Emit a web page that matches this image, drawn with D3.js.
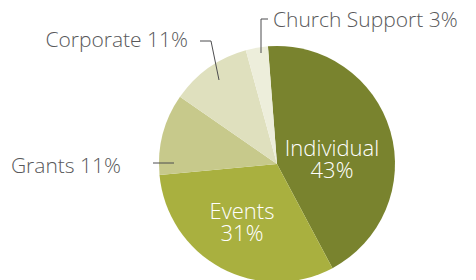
<!DOCTYPE html>
<html>
<head>
<meta charset="utf-8">
<script src="https://cdn.jsdelivr.net/npm/d3@7"></script>
<style>
  body { margin: 0; background: #fff; }
  text { font-family: 'Open Sans', sans-serif; font-weight: 300; }
</style>
</head>
<body>
<script>
const categories = ['Individual', 'Events', 'Grants', 'Corporate', 'Church Support']
const values = [43, 31, 11, 11, 3]
const colours = ['#79832e', '#a9b03f', '#c7c98b', '#dfe0be', '#edeedb']

const width = 476
const height = 280
const radius = 118
const cx = 277
const cy = 164

// where each label sits, relative to the pie centre
const inside = {
  Individual: [55, -8],
  Events: [-35, 55]
}
const outside = {
  'Church Support': { text: [-4, -137], anchor: 'start', line: [[-9, -145], [-16, -145], [-16, -111]] },
  Corporate: { text: [-89, -117], anchor: 'end', line: [[-77, -123], [-66, -123], [-58, -84]] },
  Grants: { text: [-156, 9], anchor: 'end', line: [[-124, -1], [-103, -1]] }
}

const data = categories.map((c, i) => ({ category: c, value: values[i], colour: colours[i] }))

const offset = -0.077
const pie = d3.pie()
  .sort(null)
  .value(d => d.value)
  .startAngle(offset)
  .endAngle(2 * Math.PI + offset)

const arc = d3.arc().innerRadius(0).outerRadius(radius)

const svg = d3.select('body').append('svg')
  .attr('width', width)
  .attr('height', height)

const g = svg.append('g')
  .attr('transform', `translate(${cx},${cy})`)

g.selectAll('path.slice')
  .data(pie(data))
  .enter()
  .append('path')
  .attr('class', 'slice')
  .attr('d', arc)
  .attr('fill', d => d.data.colour)

// labels inside the big slices
const inner = g.selectAll('text.inner')
  .data(pie(data).filter(d => inside[d.data.category]))
  .enter()
  .append('text')
  .attr('class', 'inner')
  .attr('text-anchor', 'middle')
  .attr('fill', '#fff')
  .attr('font-size', 22)
  .attr('transform', d => `translate(${inside[d.data.category]})`)
inner.append('tspan').attr('x', 0).attr('y', 0).text(d => d.data.category)
inner.append('tspan').attr('x', 0).attr('y', 22).text(d => `${d.data.value}%`)

// labels outside with leader lines
const outer = pie(data).filter(d => outside[d.data.category])
g.selectAll('path.leader')
  .data(outer)
  .enter()
  .append('path')
  .attr('class', 'leader')
  .attr('d', d => d3.line()(outside[d.data.category].line))
  .attr('fill', 'none')
  .attr('stroke', '#4d4d4f')
  .attr('stroke-width', 1)

g.selectAll('text.outer')
  .data(outer)
  .enter()
  .append('text')
  .attr('class', 'outer')
  .attr('x', d => outside[d.data.category].text[0])
  .attr('y', d => outside[d.data.category].text[1])
  .attr('text-anchor', d => outside[d.data.category].anchor)
  .attr('fill', '#58585a')
  .attr('font-size', 21)
  .text(d => `${d.data.category} ${d.data.value}%`)
</script>
</body>
</html>
